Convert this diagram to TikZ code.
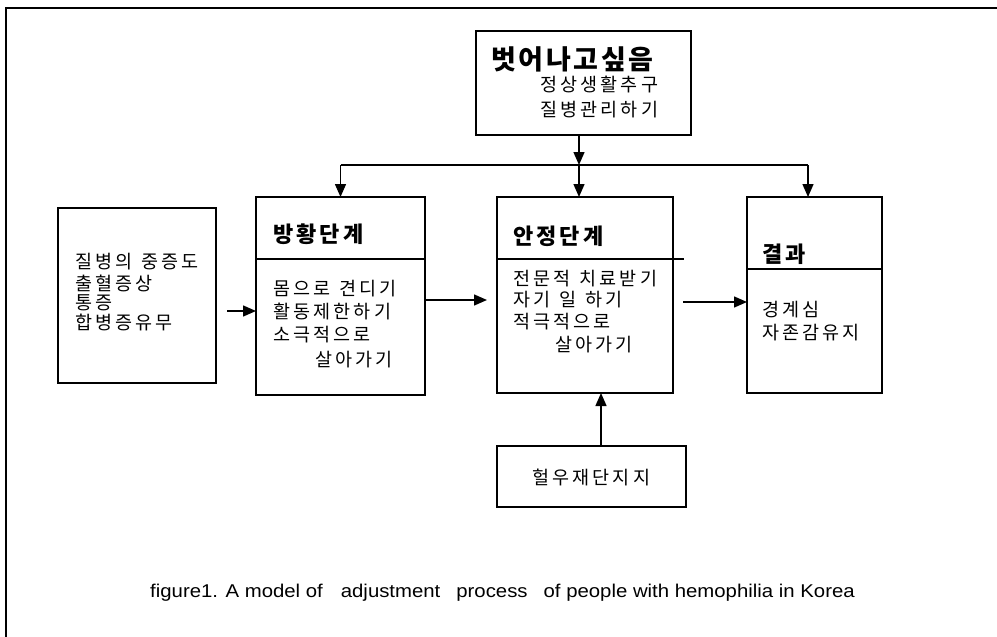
\documentclass[tikz,border=0pt]{standalone}
\usepackage{fontspec}
\setmainfont{Noto Sans CJK KR}
\newfontfamily\krbody[LetterSpace=17]{Noto Sans CJK KR}
\newfontfamily\krtitle[LetterSpace=14]{Noto Sans CJK KR}
\newfontfamily\krbig[LetterSpace=10]{Noto Sans CJK KR}
\newfontfamily\capfont[FakeStretch=1.1]{Liberation Sans}
\newcommand{\wsp}{\hspace{9pt}}
\usetikzlibrary{arrows.meta}
\tikzset{
  box/.style={draw, line width=1.4pt, inner sep=0pt, outer sep=0pt},
  arr/.style={line width=1.4pt, -{Triangle[length=13pt,width=11pt]}},
  conn/.style={line width=1.4pt},
  ttl/.style={anchor=west, inner sep=0pt, font=\krtitle\fontsize{22pt}{22pt}\selectfont\bfseries},
  txt/.style={anchor=west, inner sep=0pt, font=\krbody\fontsize{18.5pt}{18.5pt}\selectfont},
}
\begin{document}
\begin{tikzpicture}[x=1pt,y=-1pt]
\useasboundingbox (0,0) rectangle (997,637);
\fill[white] (0,0) rectangle (997,637);
% frame
\draw[line width=2pt] (6,637) -- (6,8) -- (997,8);

% boxes
\node[box, minimum width=215pt, minimum height=104pt] (top) at (583.5,83) {};
\node[box, minimum width=158pt, minimum height=175pt] (left) at (137,295.5) {};
\node[box, minimum width=169pt, minimum height=198pt] (bang) at (340.5,296) {};
\node[box, minimum width=176pt, minimum height=196pt] (anj) at (585,295) {};
\node[box, minimum width=135pt, minimum height=196pt] (res) at (814.5,295) {};
\node[box, minimum width=189pt, minimum height=61pt] (sup) at (591.5,476.5) {};

% dividers
\draw[conn] (256,259) -- (425,259);
\draw[conn] (497,259) -- (684,259);
\draw[conn] (747,269) -- (882,269);

% texts
\node[anchor=west, inner sep=0pt, font=\krbig\fontsize{27pt}{27pt}\selectfont\bfseries] (t1) at (491,59) {벗어나고싶음};
\node[txt] (t2) at (540,85) {정상생활추구};
\node[txt] (t3) at (540,110) {질병관리하기};

\node[txt] (l1) at (75,262) {질병의\wsp 중증도};
\node[txt] (l2) at (75,283) {출혈증상};
\node[txt] (l3) at (75,303) {통증};
\node[txt] (l4) at (75,322) {합병증유무};

\node[ttl] (b0) at (273,234) {방황단계};
\node[txt] (b1) at (273,289) {몸으로\wsp 견디기};
\node[txt] (b2) at (273,311) {활동제한하기};
\node[txt] (b3) at (273,335) {소극적으로};
\node[txt] (b4) at (315,360) {살아가기};

\node[ttl] (s0) at (513,236) {안정단계};
\node[txt] (s1) at (513,279) {전문적\wsp 치료받기};
\node[txt] (s2) at (513,300) {자기\wsp 일\wsp 하기};
\node[txt] (s3) at (513,322) {적극적으로};
\node[txt] (s4) at (555,345) {살아가기};

\node[ttl] (r0) at (762,254) {결과};
\node[txt] (r1) at (762,310) {경계심};
\node[txt] (r2) at (762,333) {자존감유지};

\node[txt] (u1) at (532,477) {헐우재단지지};

\node[anchor=base west, inner sep=0pt, font=\capfont\fontsize{18.5pt}{18.5pt}\selectfont] (cap) at (150,597)
  {figure1. A model of\hspace{18pt}adjustment\hspace{16pt}process\hspace{16pt}of people with hemophilia in Korea};

% connectors
\coordinate (hub) at (579,165);
\coordinate (hL) at (340.5,165);
\coordinate (hR) at (808,165);
\draw[arr] (top.south -| hub) -- (hub);
\draw[conn] (hL) -- (hR);
\draw[arr] (hL) -- (bang.north);
\draw[arr] (hub) -- (hub |- anj.north);
\draw[arr] (hR) -- (hR |- res.north);

\coordinate (a1) at (227,311);
\draw[arr] (a1) -- (a1 -| bang.west);
\coordinate (a2) at (487,300);
\draw[arr] (bang.east |- a2) -- (a2);
\coordinate (a3) at (683,302);
\draw[arr] (a3) -- (a3 -| res.west);
\coordinate (a4) at (601,446);
\draw[arr] (a4 |- sup.north) -- (a4 |- anj.south);
\end{tikzpicture}
\end{document}
